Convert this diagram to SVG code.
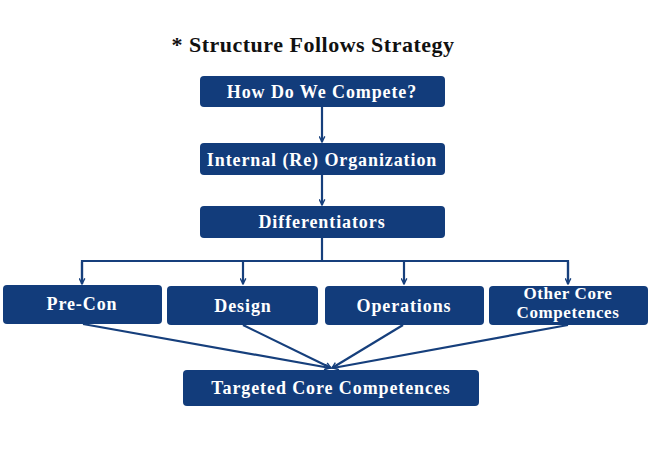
<svg xmlns="http://www.w3.org/2000/svg" width="667" height="450" viewBox="0 0 667 450">
<defs>
<style>
.box{fill:#123c7b;}
.lbl{font-family:"Liberation Serif","Times New Roman",serif;font-weight:bold;font-size:18px;fill:#ffffff;text-anchor:middle;letter-spacing:0.9px;}
.sm{font-size:17px;letter-spacing:0.6px;}
.ttl{font-family:"Liberation Serif","Times New Roman",serif;font-weight:bold;font-size:22px;fill:#111111;text-anchor:middle;letter-spacing:0.5px;}
.ln{stroke:#163f7c;stroke-width:2.2;fill:none;}
</style>
<marker id="ah" viewBox="0 0 10 10" refX="9" refY="5" markerWidth="7" markerHeight="7" orient="auto" markerUnits="userSpaceOnUse">
<path d="M1,1 L9,5 L1,9" fill="none" stroke="#163f7c" stroke-width="2"/>
</marker>
</defs>
<rect width="667" height="450" fill="#ffffff"/>
<text class="ttl" x="313" y="52">* Structure Follows Strategy</text>
<g id="connectors">
<line class="ln" x1="322" y1="107" x2="322" y2="142" marker-end="url(#ah)"/>
<line class="ln" x1="322" y1="175" x2="322" y2="205" marker-end="url(#ah)"/>
<line class="ln" x1="322" y1="238" x2="322" y2="261"/>
<polyline class="ln" points="82,284 82,261 568,261 568,284"/>
<line class="ln" x1="82" y1="262" x2="82" y2="284" marker-end="url(#ah)"/>
<line class="ln" x1="243" y1="261" x2="243" y2="284" marker-end="url(#ah)"/>
<line class="ln" x1="404" y1="261" x2="404" y2="284" marker-end="url(#ah)"/>
<line class="ln" x1="568" y1="262" x2="568" y2="284" marker-end="url(#ah)"/>
<line class="ln" x1="83" y1="324" x2="330" y2="368" marker-end="url(#ah)"/>
<line class="ln" x1="243" y1="325" x2="331" y2="368" marker-end="url(#ah)"/>
<line class="ln" x1="403" y1="325" x2="332" y2="368" marker-end="url(#ah)"/>
<line class="ln" x1="568" y1="325" x2="333" y2="368" marker-end="url(#ah)"/>
</g>
<g id="n1"><rect class="box" x="200" y="76" width="245" height="31" rx="4"/><text class="lbl" x="322" y="98">How Do We Compete?</text></g>
<g id="n2"><rect class="box" x="200" y="143" width="245" height="32" rx="4"/><text class="lbl" x="322" y="166">Internal (Re) Organization</text></g>
<g id="n3"><rect class="box" x="200" y="206" width="245" height="32" rx="4"/><text class="lbl" x="322" y="228">Differentiators</text></g>
<g id="n4"><rect class="box" x="3" y="285" width="159" height="39" rx="4"/><text class="lbl" x="82" y="310">Pre-Con</text></g>
<g id="n5"><rect class="box" x="167" y="286" width="151" height="39" rx="4"/><text class="lbl" x="243" y="312">Design</text></g>
<g id="n6"><rect class="box" x="325" y="286" width="159" height="39" rx="4"/><text class="lbl" x="404" y="312">Operations</text></g>
<g id="n7"><rect class="box" x="489" y="286" width="159" height="39" rx="4"/><text class="lbl sm" x="568" y="299">Other Core</text><text class="lbl sm" x="568" y="318">Competences</text></g>
<g id="n8"><rect class="box" x="183" y="370" width="296" height="36" rx="4"/><text class="lbl" x="331" y="394">Targeted Core Competences</text></g>
</svg>
